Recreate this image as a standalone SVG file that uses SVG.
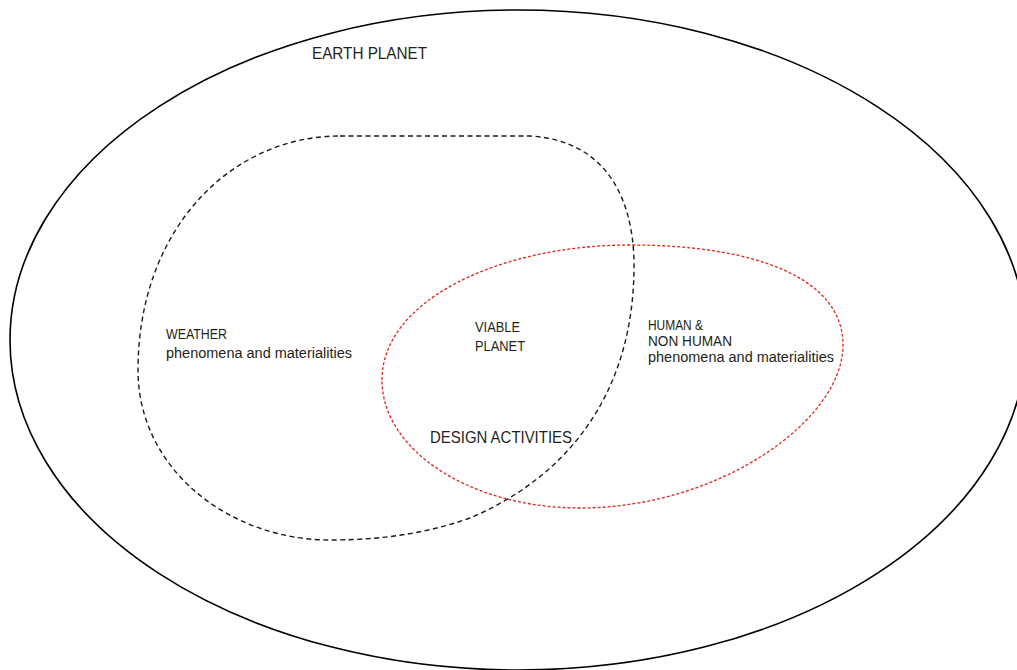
<svg xmlns="http://www.w3.org/2000/svg" width="1017" height="670" viewBox="0 0 1017 670">
  <style>
    .lbl { font-family: "Liberation Sans", Arial, sans-serif; fill: #231f20; }
    .sm { font-size: 14px; }
    .md { font-size: 16.5px; }
    .outline { fill: none; stroke: #000; stroke-width: 1.6; }
    .weather { fill: none; stroke: #1a1a1a; stroke-width: 1.4; stroke-dasharray: 5 3.5; }
    .human { fill: none; stroke: #e2231a; stroke-width: 1.3; stroke-dasharray: 3 2; }
  </style>
  <rect width="1017" height="670" fill="#fff"/>

  <!-- Earth: the outer boundary -->
  <g id="earth-planet">
    <ellipse class="outline" cx="518" cy="340" rx="508" ry="330"/>
    <text class="lbl md" x="312" y="59" textLength="115" lengthAdjust="spacingAndGlyphs">EARTH PLANET</text>
  </g>

  <!-- Weather domain (black dashed blob) -->
  <g id="weather">
    <path class="weather" d="M 340,136 L 530,136 C 600,140 632,190 634,260 C 636,400 560,480 470,518 C 420,536 370,540 330,540 C 230,540 138,470 138,370 C 138,230 230,136 340,136 Z"/>
    <text class="lbl sm" x="166" y="339" textLength="61" lengthAdjust="spacingAndGlyphs">WEATHER</text>
    <text class="lbl sm" x="166" y="358" textLength="186" lengthAdjust="spacingAndGlyphs">phenomena and materialities</text>
  </g>

  <!-- Human and non-human domain (red dotted oval) -->
  <g id="human-non-human">
    <path class="human" d="M 382,380 C 382,300 500,245 630,245 C 760,245 843,280 843,345 C 843,420 720,508 580,508 C 470,508 382,450 382,380 Z"/>
    <text class="lbl sm" x="648" y="330" textLength="55" lengthAdjust="spacingAndGlyphs">HUMAN &amp;</text>
    <text class="lbl sm" x="648" y="346" textLength="84" lengthAdjust="spacingAndGlyphs">NON HUMAN</text>
    <text class="lbl sm" x="648" y="362" textLength="186" lengthAdjust="spacingAndGlyphs">phenomena and materialities</text>
  </g>

  <!-- Overlap: viable planet -->
  <g id="viable-planet">
    <text class="lbl sm" x="475" y="332" textLength="45" lengthAdjust="spacingAndGlyphs">VIABLE</text>
    <text class="lbl sm" x="475" y="351" textLength="50" lengthAdjust="spacingAndGlyphs">PLANET</text>
  </g>

  <g id="design-activities">
    <text class="lbl md" x="430" y="443" textLength="142" lengthAdjust="spacingAndGlyphs">DESIGN ACTIVITIES</text>
  </g>
</svg>
